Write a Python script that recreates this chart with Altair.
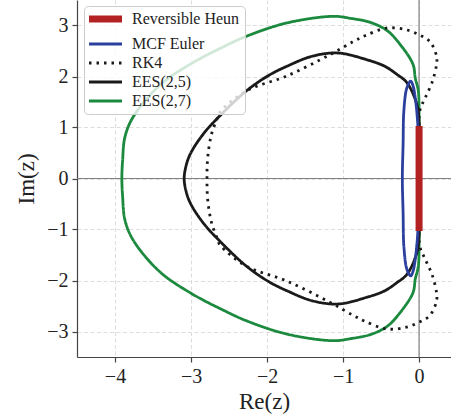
import altair as alt
import pandas as pd

methods = ["Reversible Heun", "MCF Euler", "RK4", "EES(2,5)", "EES(2,7)"]
colors = ["#b22222", "#2b3f9e", "#1a1a1a", "#1a1a1a", "#1b8a3e"]
dashes = [[1, 0], [1, 0], [2.5, 5], [1, 0], [1, 0]]
widths = [7, 2.8, 2.8, 2.8, 2.8]

# EES(2,7) boundary
ees27_re = [0, 0, 0, -0.01, -0.05, -0.08, -0.25, -0.42, -0.64, -0.9, -1.13, -1.74, -2.27, -2.55, -3.0, -3.41, -3.76, -3.87, -3.9, -3.91,
            -3.9, -3.87, -3.76, -3.41, -3.0, -2.55, -2.27, -1.74, -1.13, -0.9, -0.64, -0.42, -0.25, -0.08, -0.05, -0.01, 0, 0, 0]
ees27_im = [0, 0.6, 1.13, 1.72, 1.97, 2.24, 2.63, 2.9, 3.06, 3.14, 3.18, 3.05, 2.79, 2.6, 2.25, 1.83, 1.21, 0.81, 0.35, 0,
            -0.35, -0.81, -1.21, -1.83, -2.25, -2.6, -2.79, -3.05, -3.18, -3.14, -3.06, -2.9, -2.63, -2.24, -1.97, -1.72, -1.13, -0.6, 0]

# EES(2,5) boundary
ees25_re = [0, 0, 0, -0.03, -0.16, -0.29, -0.45, -0.69, -1.06, -1.4, -1.74, -1.98, -2.27, -2.62, -2.84, -3.01, -3.07, -3.09,
            -3.07, -3.01, -2.84, -2.62, -2.27, -1.98, -1.74, -1.4, -1.06, -0.69, -0.45, -0.29, -0.16, -0.03, 0, 0, 0]
ees25_im = [0, 0.6, 1.13, 1.46, 1.88, 2.04, 2.2, 2.33, 2.46, 2.4, 2.2, 2.02, 1.72, 1.23, 0.87, 0.48, 0.22, 0,
            -0.22, -0.48, -0.87, -1.23, -1.72, -2.02, -2.2, -2.4, -2.46, -2.33, -2.2, -2.04, -1.88, -1.46, -1.13, -0.6, 0]

# RK4 boundary
rk4_re = [0, 0, 0.01, 0.08, 0.17, 0.23, 0.23, 0.14, 0.01, -0.18, -0.43, -0.71, -0.86, -1.17, -1.74, -2.27, -2.62, -2.66, -2.73, -2.78, -2.79,
          -2.78, -2.73, -2.66, -2.62, -2.27, -1.74, -1.17, -0.86, -0.71, -0.43, -0.18, 0.01, 0.14, 0.23, 0.23, 0.17, 0.08, 0.01, 0, 0]
rk4_im = [0, 0.7, 1.33, 1.58, 1.88, 2.24, 2.4, 2.69, 2.81, 2.92, 2.95, 2.8, 2.69, 2.43, 2.01, 1.72, 1.3, 1.16, 0.87, 0.42, 0,
          -0.42, -0.87, -1.16, -1.3, -1.72, -2.01, -2.43, -2.69, -2.8, -2.95, -2.92, -2.81, -2.69, -2.4, -2.24, -1.88, -1.58, -1.33, -0.7, 0]

# MCF Euler boundary
mcf_re = [0, -0.005, -0.02, -0.05, -0.08, -0.11, -0.16, -0.2, -0.21, -0.22,
          -0.21, -0.2, -0.16, -0.11, -0.08, -0.05, -0.02, -0.005, 0]
mcf_im = [0, 0.6, 1.13, 1.58, 1.82, 1.91, 1.78, 1.33, 0.68, 0,
          -0.68, -1.33, -1.78, -1.91, -1.82, -1.58, -1.13, -0.6, 0]

# Reversible Heun segment
heun_re = [0, 0]
heun_im = [-1.03, 1.03]

series = [
    ("EES(2,7)", ees27_re, ees27_im),
    ("EES(2,5)", ees25_re, ees25_im),
    ("RK4", rk4_re, rk4_im),
    ("MCF Euler", mcf_re, mcf_im),
    ("Reversible Heun", heun_re, heun_im),
]
rows = []
for name, re, im in series:
    for i, (a, b) in enumerate(zip(re, im)):
        rows.append({"method": name, "re": a, "im": b, "idx": i})
df = pd.DataFrame(rows)

xdom = [-4.5, 0.42]
ydom = [-3.5, 3.5]
FONT = "Times New Roman"

axis_style = dict(labelFont=FONT, titleFont=FONT, labelFontSize=20, titleFontSize=23,
                  titleFontWeight="normal", labelColor="#222222", titleColor="#222222")

x = alt.X("re:Q", scale=alt.Scale(domain=xdom, nice=False, zero=False),
          axis=alt.Axis(title="Re(z)", values=[-4, -3, -2, -1, 0], format="d", titlePadding=4, **axis_style))
y = alt.Y("im:Q", scale=alt.Scale(domain=ydom, nice=False, zero=False),
          axis=alt.Axis(title="Im(z)", values=[-3, -2, -1, 0, 1, 2, 3], format="d", titlePadding=8, **axis_style))

zero_df = pd.DataFrame({"v": [0]})
vline = alt.Chart(zero_df).mark_rule(color="#808080", strokeWidth=1.2).encode(
    x=alt.X("v:Q", scale=alt.Scale(domain=xdom, nice=False, zero=False)))
hline = alt.Chart(zero_df).mark_rule(color="#808080", strokeWidth=1.2).encode(
    y=alt.Y("v:Q", scale=alt.Scale(domain=ydom, nice=False, zero=False)))

legend = alt.Legend(
    title=None, orient="none", legendX=7, legendY=6,
    symbolType="M-4,0H12.5", symbolSize=16, labelFont=FONT, labelFontSize=16,
    labelColor="#222222", labelOffset=27, rowPadding=3,
    fillColor="rgba(255,255,255,0.8)", strokeColor="#cccccc", cornerRadius=4,
    padding=5,
)

lines = alt.Chart(df).mark_line(interpolate="catmull-rom", strokeCap="butt", strokeJoin="round", clip=True).encode(
    x=x, y=y, order=alt.Order("idx:Q"),
    color=alt.Color("method:N", scale=alt.Scale(domain=methods, range=colors), legend=legend),
    strokeDash=alt.StrokeDash("method:N", scale=alt.Scale(domain=methods, range=dashes), legend=legend),
    strokeWidth=alt.StrokeWidth("method:N", scale=alt.Scale(type="ordinal", domain=methods, range=widths), legend=legend),
)

chart = alt.layer(vline, hline, lines).properties(
    width=374, height=357,
    padding={"left": 77, "top": 0, "right": 0, "bottom": 62},
    autosize=alt.AutoSizeParams(type="none"),
).configure_view(stroke=None).configure_axis(
    domainColor="#444444", domainWidth=1.2, tickColor="#444444", tickSize=5, tickWidth=1.2,
    gridColor="#dddddd", gridDash=[4, 2.5], gridWidth=1, labelPadding=4,
)

chart.save("out.html", embed_options={"renderer": "svg", "actions": False})
